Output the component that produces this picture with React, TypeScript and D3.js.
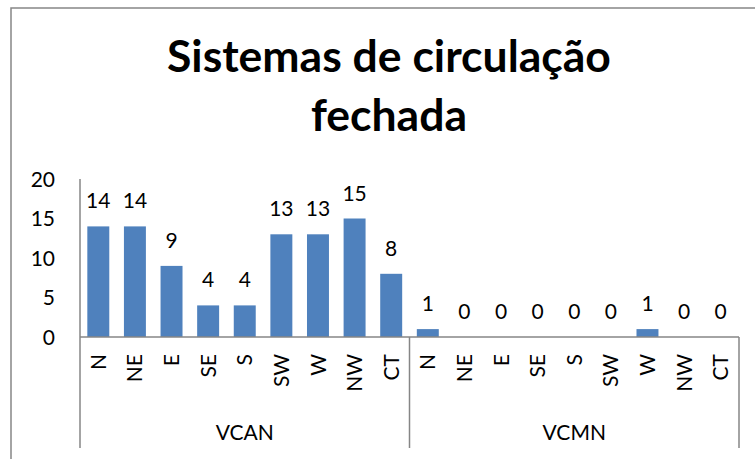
import { useRef, useEffect } from "react";
import * as d3 from "d3";

const directions = ["N", "NE", "E", "SE", "S", "SW", "W", "NW", "CT"];
const groups = ["VCAN", "VCMN"];
const vcanValues = [14, 14, 9, 4, 4, 13, 13, 15, 8];
const vcmnValues = [1, 0, 0, 0, 0, 0, 1, 0, 0];
const yTicks = [0, 5, 10, 15, 20];
const titleLines = ["Sistemas de circulação", "fechada"];

export default function App() {
  const ref = useRef<SVGSVGElement>(null);

  useEffect(() => {
    const svg = d3.select(ref.current);
    svg.selectAll("*").remove();

    const W = 755;
    const H = 459;
    const font = "Lato, 'Open Sans', sans-serif";
    const axisColor = "#868686";
    const fs = 21;

    // data rows, one per bar
    const rows = groups.flatMap((g, gi) =>
      directions.map((d, i) => ({
        key: g + "-" + d,
        group: g,
        dir: d,
        value: gi === 0 ? vcanValues[i] : vcmnValues[i],
      }))
    );

    // outer chart frame (cut off right and bottom)
    svg
      .append("rect")
      .attr("x", 11)
      .attr("y", 8)
      .attr("width", W + 20)
      .attr("height", H + 20)
      .attr("fill", "white")
      .attr("stroke", axisColor)
      .attr("stroke-width", 1.5);

    // title
    svg
      .append("g")
      .selectAll("text")
      .data(titleLines)
      .join("text")
      .attr("x", 389)
      .attr("y", (d, i) => 72 + i * 59)
      .attr("text-anchor", "middle")
      .attr("font-family", font)
      .attr("font-weight", "bold")
      .attr("font-size", 44.5)
      .attr("fill", "black")
      .text((d) => d);

    const left = 80;
    const right = 739;
    const x = d3
      .scaleBand()
      .domain(rows.map((r) => r.key))
      .range([left, right])
      .paddingInner(0.4)
      .paddingOuter(0.2);
    const step = x.step();

    const y = d3.scaleLinear().domain([0, 20]).range([337, 179]);

    // y axis
    svg
      .append("line")
      .attr("x1", left)
      .attr("x2", left)
      .attr("y1", y(20))
      .attr("y2", y(0))
      .attr("stroke", axisColor)
      .attr("stroke-width", 1.5);

    svg
      .append("g")
      .selectAll("text")
      .data(yTicks)
      .join("text")
      .attr("x", 55)
      .attr("y", (d) => y(d))
      .attr("dy", "0.36em")
      .attr("text-anchor", "end")
      .attr("font-family", font)
      .attr("font-size", fs)
      .attr("fill", "black")
      .text((d) => d);

    // bars
    svg
      .append("g")
      .selectAll("rect")
      .data(rows)
      .join("rect")
      .attr("x", (d) => x(d.key)!)
      .attr("y", (d) => y(d.value))
      .attr("width", x.bandwidth())
      .attr("height", (d) => y(0) - y(d.value))
      .attr("fill", "#4f81bd");

    // data labels
    svg
      .append("g")
      .selectAll("text")
      .data(rows)
      .join("text")
      .attr("x", (d) => x(d.key)! + x.bandwidth() / 2)
      .attr("y", (d) => y(d.value) - 18)
      .attr("text-anchor", "middle")
      .attr("font-family", font)
      .attr("font-size", fs)
      .attr("fill", "black")
      .text((d) => d.value);

    // category axis
    svg
      .append("line")
      .attr("x1", left)
      .attr("x2", right)
      .attr("y1", y(0))
      .attr("y2", y(0))
      .attr("stroke", axisColor)
      .attr("stroke-width", 1.5);

    const bounds = [0, directions.length, rows.length].map(
      (i) => left + i * step
    );
    svg
      .append("g")
      .selectAll("line")
      .data(bounds)
      .join("line")
      .attr("x1", (d) => d)
      .attr("x2", (d) => d)
      .attr("y1", y(0))
      .attr("y2", 448)
      .attr("stroke", axisColor)
      .attr("stroke-width", 1.5);

    // rotated direction labels
    svg
      .append("g")
      .selectAll("text")
      .data(rows)
      .join("text")
      .attr(
        "transform",
        (d) => `translate(${x(d.key)! + x.bandwidth() / 2},354) rotate(-90)`
      )
      .attr("dy", "0.36em")
      .attr("text-anchor", "end")
      .attr("font-family", font)
      .attr("font-size", fs)
      .attr("fill", "black")
      .text((d) => d.dir);

    // group labels
    svg
      .append("g")
      .selectAll("text")
      .data(groups)
      .join("text")
      .attr("x", (d, i) => (bounds[i] + bounds[i + 1]) / 2)
      .attr("y", 440)
      .attr("text-anchor", "middle")
      .attr("font-family", font)
      .attr("font-size", fs)
      .attr("fill", "black")
      .text((d) => d);
  }, []);

  return (
    <svg
      ref={ref}
      width={755}
      height={459}
      style={{ position: "absolute", left: 0, top: 0, background: "white" }}
    />
  );
}
